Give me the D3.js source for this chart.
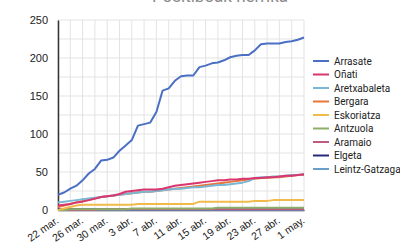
<!DOCTYPE html>
<html>
<head>
<meta charset="utf-8">
<script src="https://cdn.jsdelivr.net/npm/d3@7"></script>
<style>
  body { margin: 0; background: #fff; }
  svg { font-family: Roboto, "Noto Sans", sans-serif; }
</style>
</head>
<body>
<svg id="chart" width="400" height="250"></svg>
<script>
// day 0 = 22 mar., day 40 = 1 may.
const tickLabels = ['22 mar.', '26 mar.', '30 mar.', '3 abr.', '7 abr.', '11 abr.', '15 abr.', '19 abr.', '23 abr.', '27 abr.', '1 may.'];
const names = ['Arrasate', 'Oñati', 'Aretxabaleta', 'Bergara', 'Eskoriatza', 'Antzuola', 'Aramaio', 'Elgeta', 'Leintz-Gatzaga'];
const colors = ['#4a6fc4', '#d9366f', '#79b7d4', '#e6763c', '#f0bb4a', '#8cae67', '#bd5b82', '#262a7a', '#6b9fca'];

const arrasate = [20, 23, 28, 32, 39, 48, 54, 65, 66, 69, 78, 85, 92, 111, 113, 115, 129, 157, 160, 170, 176, 177, 177, 188, 190, 193, 194, 197, 201, 203, 204, 204, 210, 218, 219, 219, 219, 221, 222, 224, 227];
const onati = [6, 7, 8, 10, 11, 13, 15, 17, 18, 19, 21, 24, 25, 26, 27, 27, 27, 28, 30, 32, 33, 34, 35, 36, 37, 38, 39, 39, 40, 40, 41, 41, 42, 42, 43, 43, 44, 45, 45, 46, 47];
const aretxabaleta = [10, 11, 12, 13, 14, 15, 16, 17, 18, 19, 20, 21, 22, 23, 24, 24, 25, 26, 27, 28, 28, 29, 30, 30, 31, 32, 33, 33, 34, 35, 36, 38, 42, 43, 43, 44, 44, 45, 46, 46, 47];
const bergara = [4, 6, 8, 10, 12, 13, 15, 17, 18, 19, 20, 21, 22, 23, 24, 24, 25, 26, 27, 28, 29, 30, 31, 32, 33, 34, 35, 36, 37, 38, 39, 40, 41, 42, 42, 43, 43, 44, 45, 46, 46];
const eskoriatza = [0, 2, 4, 6, 7, 7, 7, 7, 7, 7, 7, 7, 7, 8, 8, 8, 8, 8, 8, 8, 8, 8, 8, 11, 11, 11, 11, 11, 11, 11, 11, 11, 12, 12, 12, 13, 13, 13, 13, 13, 13];
const antzuola = [0, 0, 1, 1, 1, 1, 1, 1, 1, 1, 1, 1, 2, 2, 2, 2, 2, 2, 2, 2, 2, 2, 2, 2, 2, 2, 3, 3, 3, 3, 3, 3, 3, 3, 3, 3, 3, 3, 3, 3, 3];
const aramaio = [0, 0, 0, 0, 0, 0, 0, 1, 1, 1, 1, 1, 1, 1, 1, 1, 1, 1, 1, 1, 1, 1, 1, 1, 1, 1, 1, 1, 1, 1, 1, 1, 1, 1, 1, 1, 1, 1, 1, 1, 1];
const elgeta = [1, 1, 1, 1, 1, 1, 1, 1, 1, 1, 1, 1, 1, 1, 1, 1, 1, 1, 1, 1, 1, 1, 1, 1, 1, 1, 1, 1, 1, 1, 1, 1, 1, 1, 1, 1, 1, 1, 1, 1, 1];
const leintz = [0, 0, 0, 0, 0, 0, 0, 0, 0, 0, 0, 0, 0, 0, 0, 0, 0, 0, 0, 0, 0, 0, 0, 0, 0, 0, 0, 0, 0, 0, 0, 0, 0, 0, 0, 0, 0, 0, 0, 0, 0];

const seriesValues = [arrasate, onati, aretxabaleta, bergara, eskoriatza, antzuola, aramaio, elgeta, leintz];

const svg = d3.select('#chart');
const margin = { top: 20, left: 58, right: 96, bottom: 40 };
const width = 400 - margin.left - margin.right;
const height = 250 - margin.top - margin.bottom;

const x = d3.scaleLinear().domain([0, 40]).range([margin.left, margin.left + width]);
const y = d3.scaleLinear().domain([0, 250]).range([margin.top + height, margin.top]);

// title, cut off at the top edge like in the source image
svg.append('text')
  .attr('x', 220).attr('y', 1.5)
  .attr('text-anchor', 'middle')
  .attr('fill', '#8a8a8a')
  .style('font-size', '17px')
  .text('Positiboak herrika');

// grid
const grid = svg.append('g');
grid.selectAll('.hg')
  .data(d3.range(0, 251, 25))
  .enter().append('line')
  .attr('x1', margin.left).attr('x2', margin.left + width)
  .attr('y1', d => y(d)).attr('y2', d => y(d))
  .attr('stroke', '#e3e3e3').attr('stroke-width', 1);
grid.selectAll('.vg')
  .data(d3.range(0, 41, 2))
  .enter().append('line')
  .attr('x1', d => x(d)).attr('x2', d => x(d))
  .attr('y1', margin.top).attr('y2', margin.top + height)
  .attr('stroke', '#e3e3e3').attr('stroke-width', 1);

// y axis
const yAxis = svg.append('g')
  .attr('transform', 'translate(' + margin.left + ',0)')
  .call(d3.axisLeft(y).tickValues(d3.range(0, 251, 50)).tickSize(0).tickPadding(10));
yAxis.select('.domain').attr('stroke', '#333').attr('stroke-width', 1.5);
yAxis.selectAll('text').attr('fill', '#222').style('font-size', '11px');

// x axis
const xAxis = svg.append('g')
  .attr('transform', 'translate(0,' + (margin.top + height) + ')')
  .call(d3.axisBottom(x).tickValues(d3.range(0, 41, 4)).tickSize(0).tickFormat((d, i) => tickLabels[i]));
xAxis.select('.domain').attr('stroke', '#333').attr('stroke-width', 1.5);
xAxis.selectAll('text')
  .attr('fill', '#222')
  .style('font-size', '10.5px')
  .attr('text-anchor', 'end')
  .attr('y', 0)
  .attr('dy', '0')
  .attr('transform', 'translate(1,12) rotate(-35)');

// lines
const line = d3.line()
  .x((d, i) => x(i))
  .y(d => y(d));

svg.append('g').selectAll('path')
  .data(seriesValues.map((v, i) => ({ v: v, c: colors[i] })).reverse())
  .enter().append('path')
  .attr('fill', 'none')
  .attr('stroke', d => d.c)
  .attr('stroke-width', 2)
  .attr('stroke-linejoin', 'round')
  .attr('d', d => line(d.v));

// legend
const legend = svg.append('g').attr('transform', 'translate(313,61)');
const items = legend.selectAll('g')
  .data(names)
  .enter().append('g')
  .attr('transform', (d, i) => 'translate(0,' + (i * 13.5) + ')');
items.append('line')
  .attr('x1', 0).attr('x2', 16)
  .attr('stroke', (d, i) => colors[i])
  .attr('stroke-width', 2);
items.append('text')
  .attr('x', 21).attr('dy', '0.35em')
  .attr('fill', '#222')
  .style('font-size', '10px')
  .text(d => d);
</script>
</body>
</html>
